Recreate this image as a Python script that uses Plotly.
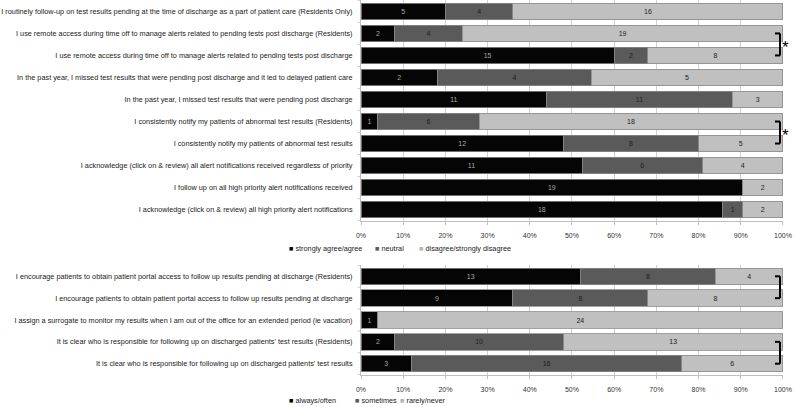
import plotly.graph_objects as go

# ---------------- data ----------------
top_labels = [
    "I routinely follow-up on test results pending at the time of discharge as a part of patient care (Residents Only)",
    "I use remote access during time off to manage alerts related to pending tests post discharge (Residents)",
    "I use remote access during time off to manage alerts related to pending tests post discharge",
    "In the past year, I missed test results that were pending post discharge and it led to delayed patient care",
    "In the past year, I missed test results that were pending post discharge",
    "I consistently notify my patients of abnormal test results (Residents)",
    "I consistently notify my patients of abnormal test results",
    "I acknowledge (click on & review) all alert notifications received regardless of priority",
    "I follow up on all high priority alert notifications received",
    "I acknowledge (click on & review) all high priority alert notifications",
]
top_agree = [5, 2, 15, 2, 11, 1, 12, 11, 19, 18]
top_neutral = [4, 4, 2, 4, 11, 6, 8, 6, 0, 1]
top_disagree = [16, 19, 8, 5, 3, 18, 5, 4, 2, 2]
top_series_names = ["strongly agree/agree", "neutral", "disagree/strongly disagree"]

bot_labels = [
    "I encourage patients to obtain patient portal access to follow up results pending at discharge (Residents)",
    "I encourage patients to obtain patient portal access to follow up results pending at discharge",
    "I assign a surrogate to monitor my results when I am out of the office for an extended period (ie vacation)",
    "It is clear who is responsible for following up on discharged patients' test results (Residents)",
    "It is clear who is responsible for following up on discharged patients' test results",
]
bot_always = [13, 9, 1, 2, 3]
bot_sometimes = [8, 8, 0, 10, 16]
bot_rarely = [4, 8, 24, 13, 6]
bot_series_names = ["always/often", "sometimes", "rarely/never"]

x_ticks = [0, 10, 20, 30, 40, 50, 60, 70, 80, 90, 100]
x_ticktext = ["0%", "10%", "20%", "30%", "40%", "50%", "60%", "70%", "80%", "90%", "100%"]

top_brackets = [(1, 2, "*"), (5, 6, "*")]
bot_brackets = [(0, 1, ""), (3, 4, "")]

# ---------------- style ----------------
COLORS = ["#050505", "#5a5a5a", "#c0c0c0"]
TEXTCOL = ["#a8a8a8", "#1e1e1e", "#1e1e1e"]
FONT = "Liberation Sans"
W, H = 800, 407
L, R = 361, 783

fig = go.Figure()


def add_panel(labels, series, names, xa, ya):
    totals = [sum(v) for v in zip(*series)]
    for k, vals in enumerate(series):
        pct = [round(v / t * 100, 6) for v, t in zip(vals, totals)]
        fig.add_trace(go.Bar(
            y=labels, x=pct, orientation="h", name=names[k],
            marker=dict(color=COLORS[k], line=dict(color="#8a8a8a", width=0.8)),
            text=[str(v) if v > 0 else "" for v in vals],
            textposition="inside", insidetextanchor="middle",
            textfont=dict(size=7, color=TEXTCOL[k], family=FONT),
            xaxis=xa, yaxis=ya, showlegend=False, hoverinfo="skip",
        ))


add_panel(top_labels, [top_agree, top_neutral, top_disagree], top_series_names, "x", "y")
add_panel(bot_labels, [bot_always, bot_sometimes, bot_rarely], bot_series_names, "x2", "y2")

top_dom = [1 - 221 / H, 1.0]
bot_dom = [1 - 375 / H, 1 - 265 / H]

xcommon = dict(range=[0, 100.01], tickvals=x_ticks, ticktext=x_ticktext,
               showgrid=True, gridcolor="#cfcfcf", gridwidth=0.8,
               zeroline=False, showline=True, linecolor="#bfbfbf",
               ticks="outside", ticklen=3, tickcolor="#bfbfbf",
               ticklabelstandoff=5,
               tickfont=dict(size=7, color="#333", family=FONT), fixedrange=True)
ycommon = dict(autorange="reversed", showline=True, linecolor="#bfbfbf",
               ticks="", tickfont=dict(size=7.3, color="#222", family=FONT),
               ticklabelstandoff=6, fixedrange=True)

fig.update_layout(
    width=W, height=H,
    margin=dict(l=L, r=W - R, t=0, b=0),
    paper_bgcolor="white", plot_bgcolor="white",
    barmode="stack", bargap=0.24, showlegend=False,
    xaxis=dict(domain=[0, 1], anchor="y", **xcommon),
    yaxis=dict(domain=top_dom, anchor="x", **ycommon),
    xaxis2=dict(domain=[0, 1], anchor="y2", **xcommon),
    yaxis2=dict(domain=bot_dom, anchor="x2", **ycommon),
)

shapes = []
annotations = []


def px_to_paper_x(px):
    return (px - L) / (R - L)


def add_legend(names, y_px, x_starts):
    for k, name in enumerate(names):
        annotations.append(dict(
            xref="paper", yref="paper", x=px_to_paper_x(x_starts[k]), y=1 - y_px / H,
            xanchor="left", yanchor="middle", showarrow=False,
            text=f"<span style='color:{COLORS[k] if k < 2 else '#b5b5b5'}'>■</span> {name}",
            font=dict(size=7.3, color="#222", family=FONT)))


add_legend(top_series_names, 248, [287, 373, 417])
add_legend(bot_series_names, 400, [287, 353, 398])


def add_brackets(brackets, xr, yr, n):
    x_in = px_to_paper_x(775)
    x_ln = px_to_paper_x(780)
    x_star = px_to_paper_x(791)
    for a, b, star in brackets:
        for (x0, y0, x1, y1) in [(x_ln, a, x_ln, b), (x_in, a, x_ln, a), (x_in, b, x_ln, b)]:
            shapes.append(dict(type="line", xref="paper", yref=yr, x0=x0, y0=y0, x1=x1, y1=y1,
                               line=dict(color="black", width=2)))
        if star:
            annotations.append(dict(xref="paper", yref=yr, x=x_star, y=(a + b) / 2, text=star,
                                    yshift=-3, showarrow=False,
                                    font=dict(size=17, color="black", family=FONT)))
    # tick marks on category boundaries (left axis)
    for i in range(n + 1):
        shapes.append(dict(type="line", xref="paper", yref=yr, x0=-0.008, x1=0,
                           y0=i - 0.5, y1=i - 0.5, line=dict(color="#bfbfbf", width=0.8)))


add_brackets(top_brackets, "x", "y", len(top_labels))
add_brackets(bot_brackets, "x2", "y2", len(bot_labels))

fig.update_layout(shapes=shapes, annotations=annotations)

fig.write_html("out.html")
